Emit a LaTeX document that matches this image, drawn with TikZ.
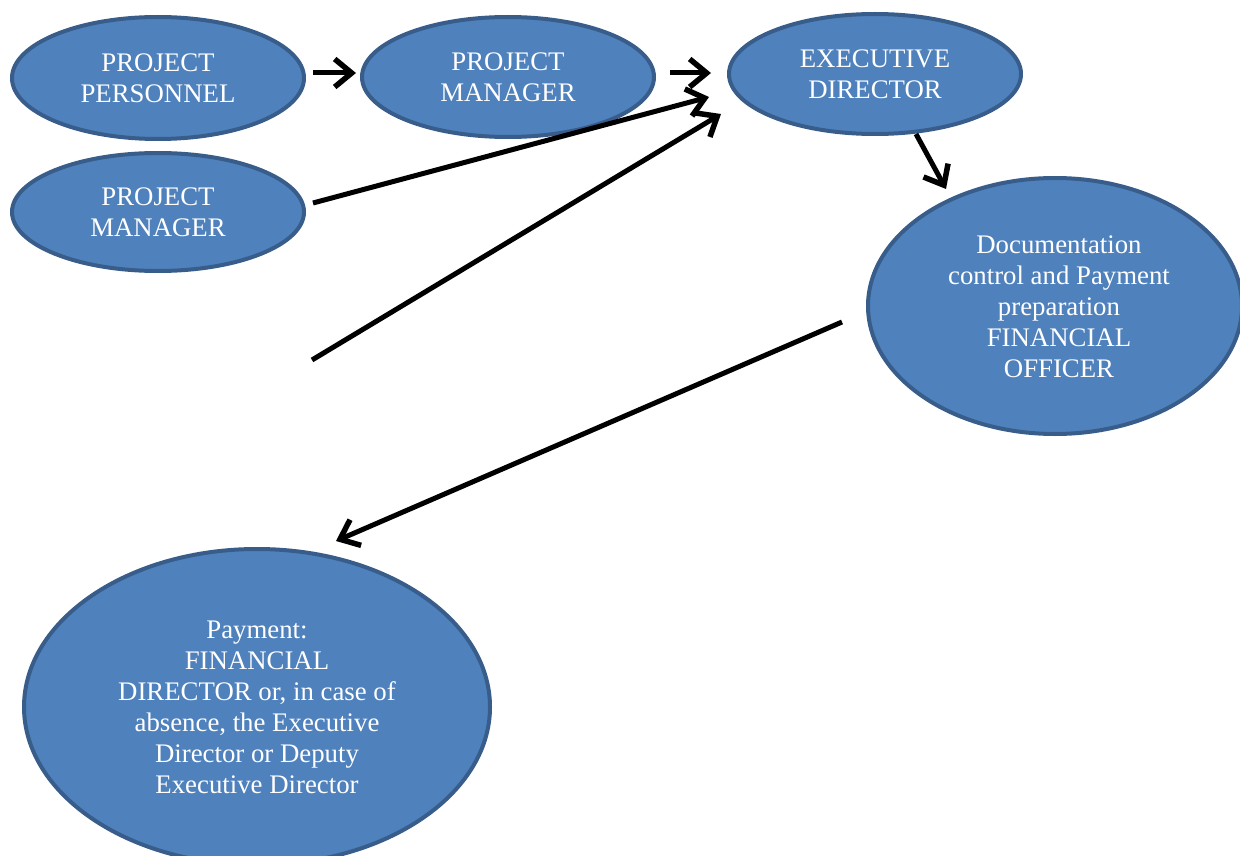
\documentclass[tikz,border=0pt]{standalone}
\usepackage{fontspec}
\setmainfont{Liberation Serif}
\usetikzlibrary{shapes.geometric,arrows.meta}
\definecolor{efill}{HTML}{4F81BD}
\definecolor{eline}{HTML}{385D8A}
\tikzset{
  oval/.style={ellipse, draw=eline, fill=efill, line width=4pt, text=white,
    align=center, inner sep=0pt, font=\fontsize{26.8}{31}\selectfont},
  flow/.style={line width=5pt, -{Straight Barb[length=17pt,width=28pt,line width=5.5pt]}}
}
\begin{document}
\begin{tikzpicture}[x=1pt,y=-1pt]
\useasboundingbox (0,0) rectangle (1240,856);
\node[oval, minimum width=292pt, minimum height=122pt] (pp) at (158,78) {PROJECT\\PERSONNEL};
\node[oval, minimum width=292pt, minimum height=120pt] (pm) at (508,77) {PROJECT\\MANAGER};
\node[oval, minimum width=292pt, minimum height=120pt] (ed) at (875,74) {EXECUTIVE\\DIRECTOR};
\node[oval, minimum width=292pt, minimum height=118pt] (pm2) at (158,212) {PROJECT\\MANAGER};
\node[oval, minimum width=374pt, minimum height=256pt] (fo) at (1055,306) {};
\node[text=white, align=center, inner sep=0pt, font=\fontsize{26.8}{31}\selectfont] (fot) at (1059,307) {Documentation\\control and Payment\\preparation\\FINANCIAL\\OFFICER};
\node[oval, minimum width=466pt, minimum height=316pt] (fd) at (257,707) {Payment:\\FINANCIAL\\DIRECTOR or, in case of\\absence, the Executive\\Director or Deputy\\Executive Director};
\coordinate (a1s) at (313,73); \coordinate (a1e) at (356,73);
\coordinate (a2s) at (670,73); \coordinate (a2e) at (711,73);
\coordinate (a3s) at (313,203); \coordinate (a3e) at (709,97);
\coordinate (a4s) at (312,360); \coordinate (a4e) at (721,114);
\coordinate (a5s) at (916,134); \coordinate (a5e) at (946,189);
\coordinate (a6s) at (842,322); \coordinate (a6e) at (336,541);
\draw[flow] (a1s) -- (a1e);
\draw[flow] (a2s) -- (a2e);
\draw[flow] (a3s) -- (a3e);
\draw[flow] (a4s) -- (a4e);
\draw[flow] (a5s) -- (a5e);
\draw[flow] (a6s) -- (a6e);
\end{tikzpicture}
\end{document}
